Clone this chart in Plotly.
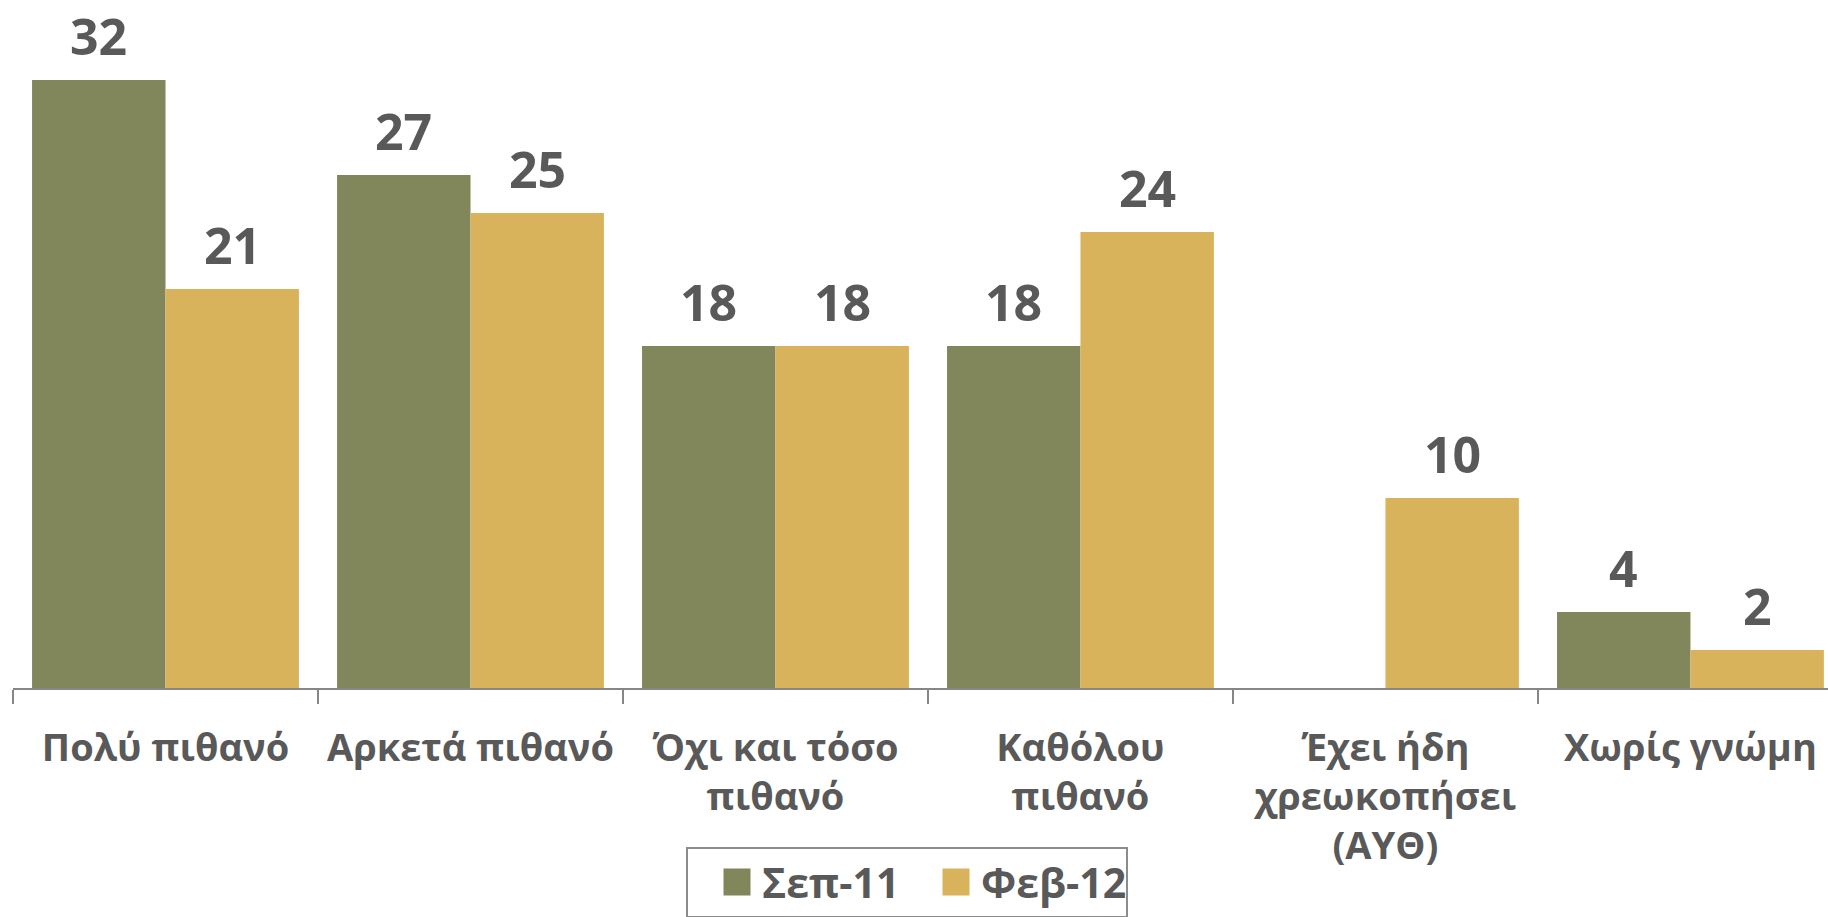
import plotly.graph_objects as go

categories = ["Πολύ πιθανό", "Αρκετά πιθανό", "Όχι και τόσο<br>πιθανό", "Καθόλου<br>πιθανό",
              "Έχει ήδη<br>χρεωκοπήσει<br>(ΑΥΘ)", "Χωρίς γνώμη"]
series_names = ["Σεπ-11", "Φεβ-12"]
sep11 = [32, 27, 18, 18, None, 4]
feb12 = [21, 25, 18, 24, 10, 2]

colors = ["#82865B", "#D9B25C"]
text_color = "#595959"
font_family = "Open Sans, Noto Sans, sans-serif"
bargap = 0.125

fig = go.Figure()
for name, vals, col in zip(series_names, [sep11, feb12], colors):
    fig.add_trace(go.Bar(x=categories, y=vals, name=f"<b>{name}</b>", marker_color=col,
                         marker_line_width=0))

# value labels above bars
half = (1 - bargap) / 4
for k, vals in enumerate([sep11, feb12]):
    off = -half if k == 0 else half
    for i, v in enumerate(vals):
        if v is None:
            continue
        fig.add_annotation(x=i + off, y=v, xref="x", yref="y", text=f"<b>{v}</b>",
                           showarrow=False, yanchor="bottom", yshift=8,
                           font=dict(size=50, color=text_color, family=font_family))

fig.update_layout(
    width=1828, height=917,
    margin=dict(l=13, r=0, t=12, b=229, autoexpand=False),
    paper_bgcolor="white", plot_bgcolor="white",
    barmode="group", bargap=bargap, bargroupgap=0,
    font=dict(family=font_family, color=text_color),
    showlegend=True,
    legend=dict(orientation="h", x=0.3708, y=-0.235, xanchor="left", yanchor="top",
                bordercolor="#8C8C8C", borderwidth=2, bgcolor="white",
                font=dict(size=41, color=text_color, family=font_family),
                indentation=34, entrywidth=140, entrywidthmode="pixels",
                itemsizing="constant"),
)
fig.update_xaxes(type="category", tickson="boundaries", ticks="outside", ticklen=14,
                 tickcolor="#868686", tickwidth=2, showline=True, linecolor="#868686",
                 linewidth=2, showgrid=False, range=[-0.5, 5.451], automargin=False,
                 ticklabelstandoff=25,
                 tickfont=dict(size=38, color=text_color, family=font_family),
                 tickvals=categories,
                 ticktext=[f"<b>{c}</b>" for c in categories])
fig.update_yaxes(range=[0, 35.58], visible=False, showgrid=False, automargin=False)

# remove the page's default body margin, and enlarge the legend colour swatches
post_js = """
document.body.style.margin = '0px';
document.body.style.overflow = 'hidden';
var gd = document.getElementById('{plot_id}');
function bigSwatches() {
  gd.querySelectorAll('.legend .legendpoints path').forEach(function (p) {
    p.setAttribute('d', 'M8.5,13.5H-18.5V-13.5H8.5Z');
  });
}
bigSwatches();
if (gd.on) { gd.on('plotly_afterplot', bigSwatches); }
setTimeout(bigSwatches, 50);
"""

fig.write_html("out.html", post_script=post_js, config={"displayModeBar": False})
